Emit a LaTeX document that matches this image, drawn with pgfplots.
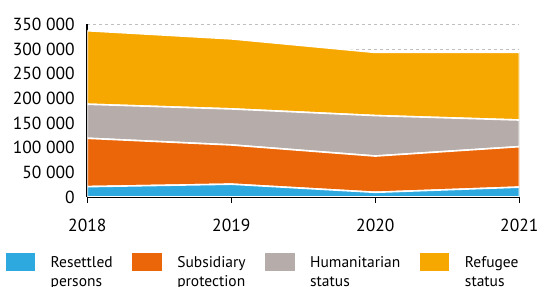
\documentclass[border=0pt]{standalone}
\usepackage{fontspec}
\setmainfont{PT Sans}
\usepackage{pgfplots}
\pgfplotsset{compat=1.18}
\definecolor{cblue}{HTML}{2EA9DF}
\definecolor{corange}{HTML}{EB6608}
\definecolor{cgray}{HTML}{B6ACA9}
\definecolor{cyellow}{HTML}{F7A800}
\pgfplotsset{layers/mylayers/.define layer set={axis background,axis grid,axis ticks,main,axis lines,axis tick labels,axis descriptions,axis foreground}{}}
\pgfplotsset{gridl/.style={dashed, gray!50, line width=0.8bp, on layer=axis background, forget plot, stack plots=false, mark=none}}
\begin{document}
\begin{tikzpicture}
\begin{axis}[
  set layers=mylayers,
  scale only axis,
  width=432bp, height=172.7bp,
  xmin=2018, xmax=2021, ymin=0, ymax=350000,
  axis x line*=bottom, axis y line*=left,
  axis line style={black, line width=1.8bp},
  xtick={2018,2019,2020,2021},
  xticklabels={2018,2019,2020,2021},
  ytick={0,50000,100000,150000,200000,250000,300000,350000},
  yticklabels={0,50\ 000,100\ 000,150\ 000,200\ 000,250\ 000,300\ 000,350\ 000},
  tick label style={font=\fontsize{17.5bp}{20bp}\selectfont},
  scaled y ticks=false,
  xtick style={black, line width=1.2bp},
  major tick length=6bp,
  tick align=outside,
  ytick style={draw=none},
  yticklabel style={xshift=-3bp},
  xticklabel style={yshift=-13bp},
  stack plots=y,
  legend columns=4,
  legend style={at={(-0.193,-0.313)}, anchor=north west, draw=none, inner sep=0pt,
    font=\fontsize{15.5bp}{19.5bp}\selectfont,
    column sep=12bp,
    /tikz/every even column/.append style={column sep=16bp},
    cells={align=left, anchor=north west, inner sep=0pt}},
  legend image code/.code={\fill[#1] (0bp,-20bp) rectangle (31bp,0bp);},
]
\addplot[gridl] coordinates {(2018,50000) (2021,50000)};
\addplot[gridl] coordinates {(2018,100000) (2021,100000)};
\addplot[gridl] coordinates {(2018,150000) (2021,150000)};
\addplot[gridl] coordinates {(2018,200000) (2021,200000)};
\addplot[gridl] coordinates {(2018,250000) (2021,250000)};
\addplot[gridl] coordinates {(2018,300000) (2021,300000)};
\addplot[gridl] coordinates {(2018,350000) (2021,350000)};
\addplot[fill=cblue, draw=white, line width=1.6bp, mark=none] coordinates {(2018,21000) (2019,26000) (2020,9500) (2021,20000)} \closedcycle;
\addlegendentry{\rule{0pt}{13bp}Resettled\\persons}
\addplot[fill=corange, draw=white, line width=1.6bp, mark=none] coordinates {(2018,98000) (2019,79500) (2020,73500) (2021,82000)} \closedcycle;
\addlegendentry{\rule{0pt}{13bp}Subsidiary\\protection}
\addplot[fill=cgray, draw=white, line width=1.6bp, mark=none] coordinates {(2018,69000) (2019,73000) (2020,82000) (2021,54000)} \closedcycle;
\addlegendentry{\rule{0pt}{13bp}Humanitarian\\status}
\addplot[fill=cyellow, draw=white, line width=1.6bp, mark=none] coordinates {(2018,149000) (2019,142000) (2020,128000) (2021,137000)} \closedcycle;
\addlegendentry{\rule{0pt}{13bp}Refugee\\status}
\end{axis}
\pgfresetboundingbox
\path[use as bounding box] (-87.3bp,-90bp) rectangle (470.7bp,197bp);
\end{tikzpicture}
\end{document}
